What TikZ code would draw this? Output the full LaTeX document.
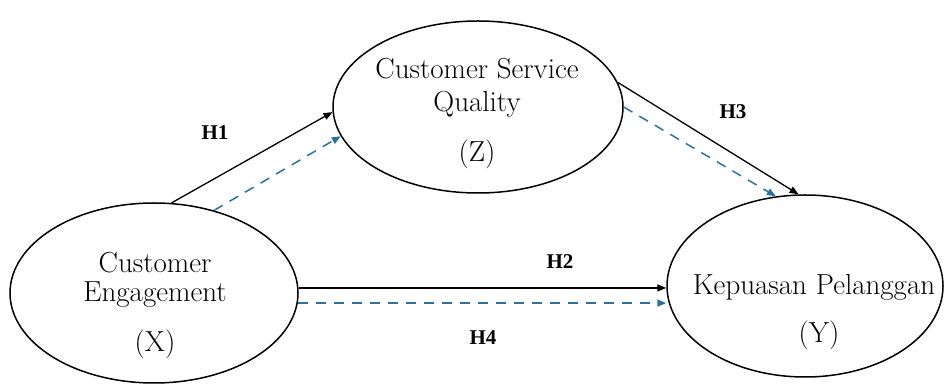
\documentclass[tikz,border=0pt]{standalone}
\usepackage{fontspec}
\usetikzlibrary{shapes.geometric,arrows.meta}
\newfontfamily\hypfont{Liberation Serif}
\definecolor{pathblue}{RGB}{46,112,158}
\tikzset{
  construct/.style={ellipse, draw=black, line width=1.5pt, inner sep=0pt},
  label text/.style={font=\fontsize{29}{33}\selectfont, anchor=base, inner sep=0pt},
  hyp/.style={font=\hypfont\bfseries\fontsize{21}{24}\selectfont, inner sep=0pt},
  direct/.style={draw=black, line width=1.3pt, -{Triangle[length=9pt,width=7pt]}},
  indirect/.style={draw=pathblue, line width=1.5pt, dash pattern=on 10pt off 8pt,
    -{Triangle[length=9pt,width=7pt]}}
}
\begin{document}
\begin{tikzpicture}[x=1pt,y=1pt]
  \useasboundingbox (0,0) rectangle (944,385);

  % constructs
  \node[construct, minimum width=288pt, minimum height=180pt] (X) at (154,92) {};
  \node[construct, minimum width=290pt, minimum height=172pt] (Z) at (478,278) {};
  \node[construct, minimum width=276pt, minimum height=182pt] (Y) at (805,99) {};

  % construct names
  \node[label text] (x1) at (155,112) {Customer};
  \node[label text] (x2) at (155,83) {Engagement};
  \node[label text] (x3) at (155,33) {(X)};
  \node[label text] (z1) at (477,306) {Customer Service};
  \node[label text] (z2) at (477,273) {Quality};
  \node[label text] (z3) at (477,223) {(Z)};
  \node[label text] (y1) at (814,90) {Kepuasan Pelanggan};
  \node[label text] (y2) at (819,42) {(Y)};

  % paths
  \draw[direct] (X.79) -- (Z.182);
  \draw[indirect] (X.54) -- (Z.192);
  \draw[direct] (Z.10) -- (Y.94);
  \draw[indirect] (Z.0) -- (Y.108);
  \draw[direct] (X.2) -- (Y.west |- X.2);
  \draw[indirect] (X.-4) -- (Y.west |- X.-4);

  % hypotheses
  \node[hyp] (h1) at (215,252) {H1};
  \node[hyp] (h2) at (560,123) {H2};
  \node[hyp] (h3) at (733,273) {H3};
  \node[hyp] (h4) at (483,47) {H4};
\end{tikzpicture}
\end{document}
